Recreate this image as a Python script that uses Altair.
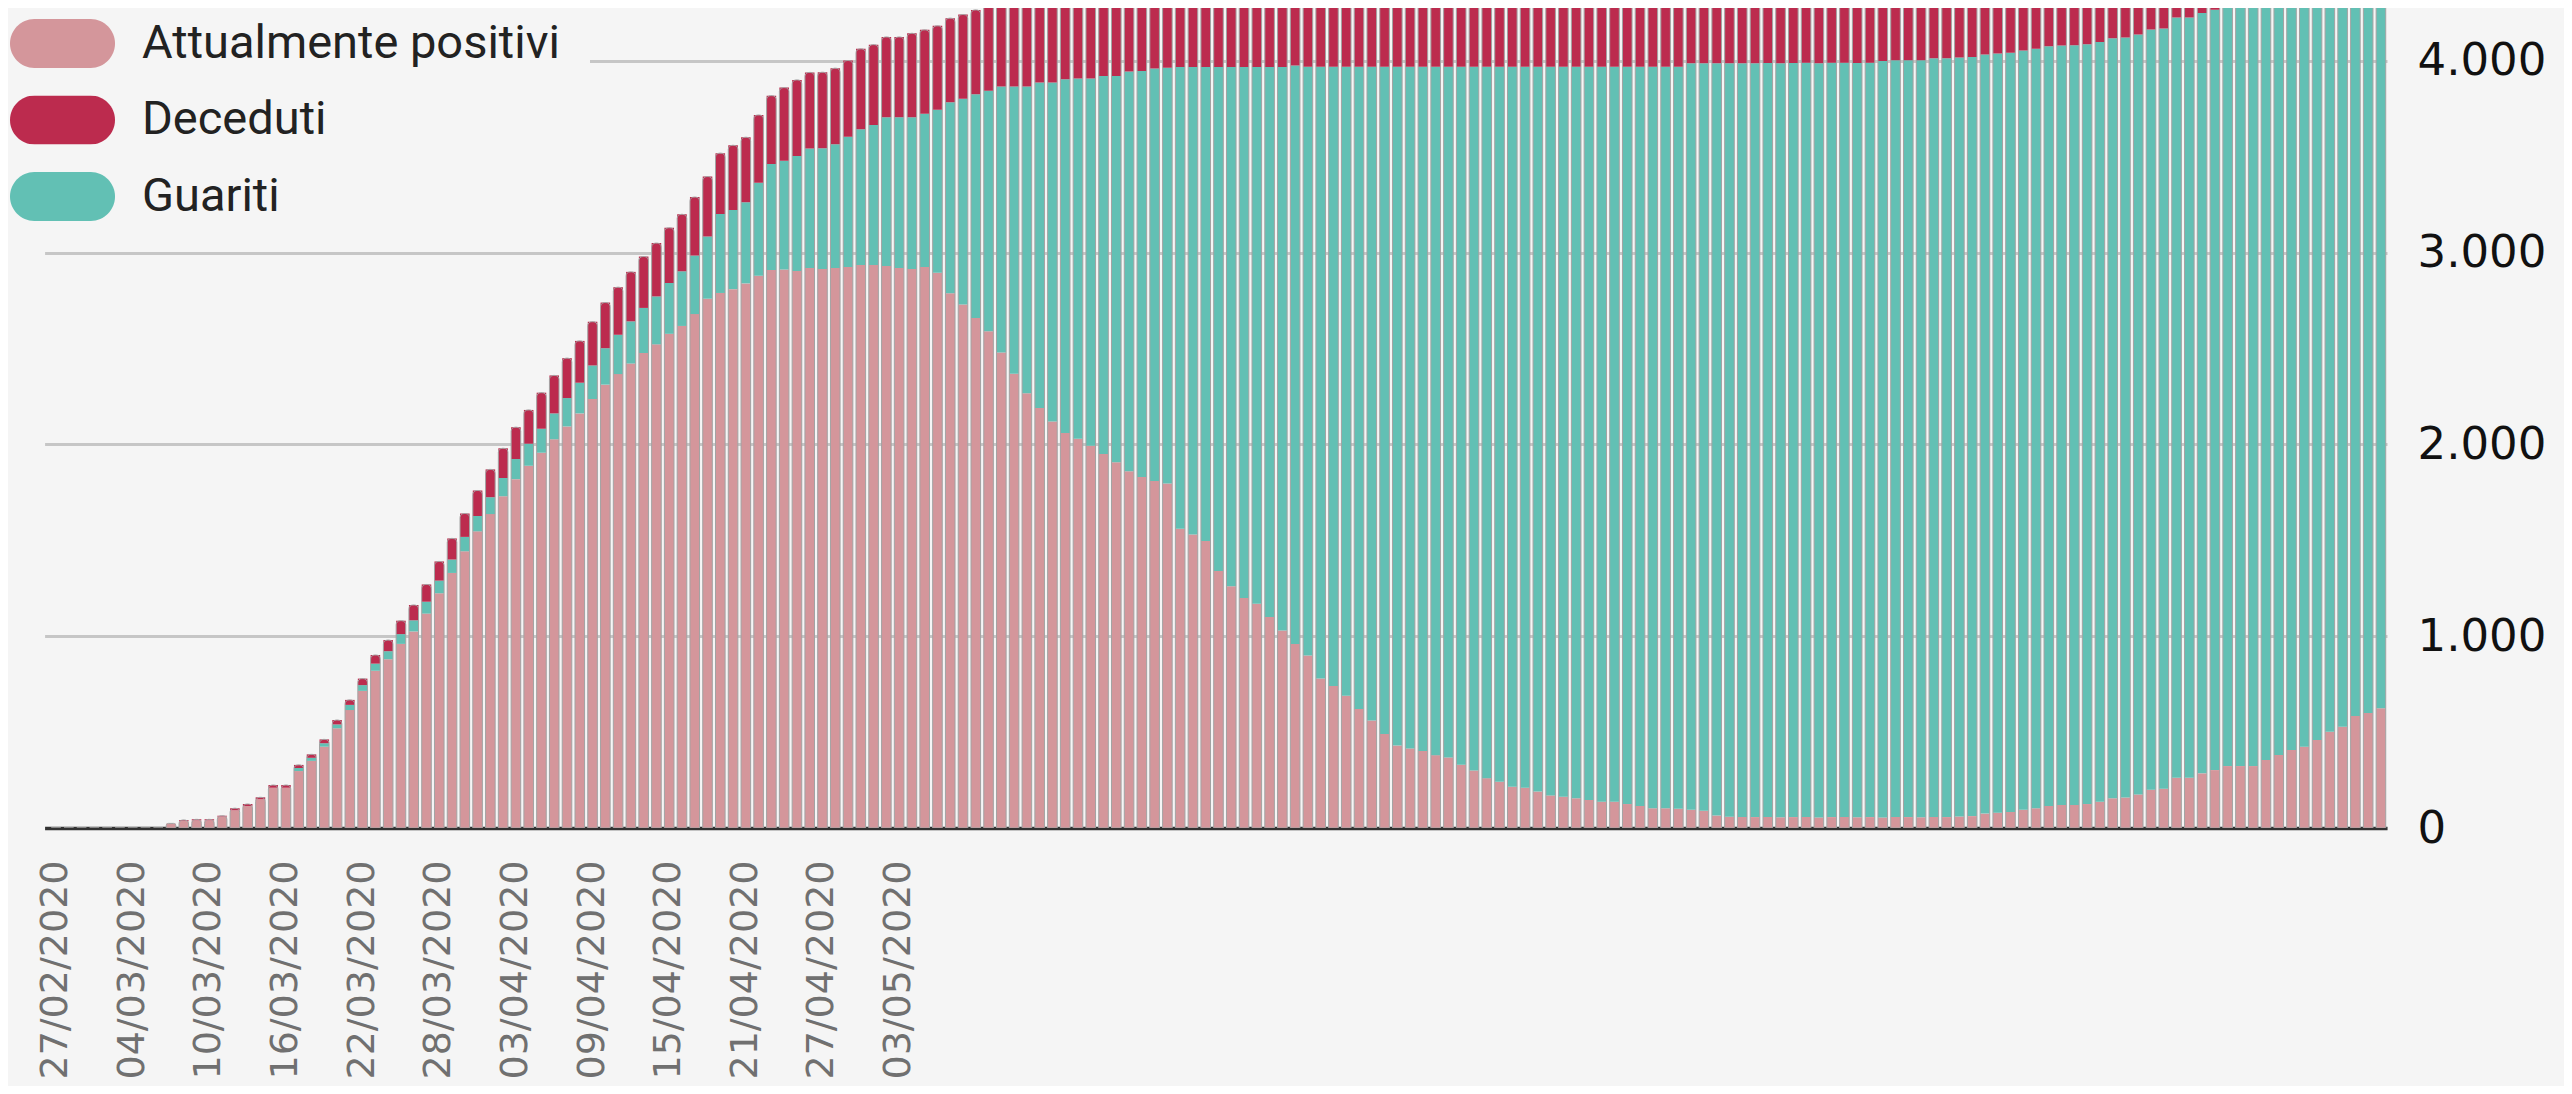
import altair as alt
import pandas as pd

# ---------------- data ----------------
dates = [d.strftime("%d/%m/%Y") for d in pd.date_range("2020-02-27", periods=183, freq="D")]

tick_labels = ["27/02/2020", "04/03/2020", "10/03/2020", "16/03/2020", "22/03/2020",
               "28/03/2020", "03/04/2020", "09/04/2020", "15/04/2020", "21/04/2020",
               "27/04/2020", "03/05/2020"]

series = ["Attualmente positivi", "Deceduti", "Guariti"]
colors = ["#d4969b", "#bc2b4e", "#62c0b4"]

positivi = (
    [0] * 9 +
    [24, 38, 41, 41, 60, 93, 115, 150, 210, 210,
     297, 350, 424, 520, 615, 715, 820, 880, 960, 1025,
     1118, 1224, 1330, 1443, 1547, 1637, 1730, 1819, 1889, 1957,
     2027, 2094, 2162, 2237, 2312, 2367, 2422, 2477, 2522, 2577,
     2618, 2680, 2760, 2790, 2810, 2840, 2880, 2910, 2912, 2905,
     2920, 2915, 2920, 2925, 2936, 2936, 2930, 2920, 2915, 2925,
     2896, 2789, 2730, 2660, 2590, 2480, 2369, 2267, 2190, 2120,
     2060, 2030, 1993, 1950, 1907, 1860, 1830, 1810, 1796, 1560,
     1530, 1497, 1340, 1260, 1200, 1170, 1100, 1030, 960, 900,
     780, 740, 690, 620, 560, 490, 430, 415, 402, 380,
     368, 330, 300, 260, 241, 215, 210, 190, 170, 163,
     155, 146, 137, 137, 125, 115, 103, 103, 100, 95,
     90, 65, 59] +
    [58, 57, 58, 56, 57, 58, 55, 57, 58, 56, 57, 55, 58, 57, 56, 58, 57, 60, 62] +
    [75, 80, 84, 95, 103, 115, 120, 120, 125, 137,
     155, 159, 175, 200, 205, 262, 262, 285, 302, 323,
     323, 323, 355, 381, 407, 424, 459, 502, 528, 584,
     600, 624]
)

guariti = (
    [0] * 19 +
    [16, 16, 18, 20, 27, 30, 37, 42, 51, 58,
     62, 66, 70, 75, 80, 88, 95, 105, 115, 125,
     135, 148, 160, 175, 190, 205, 220, 235, 250, 265,
     285, 305, 324, 412, 412, 423, 485, 553, 568, 599,
     623, 629, 645, 680, 708, 730, 776, 786, 791, 799,
     849, 995, 1073, 1166, 1255, 1386, 1497, 1599, 1697, 1767,
     1844, 1878, 1915, 1972, 2015, 2085, 2117, 2150, 2169, 2408,
     2438, 2471, 2628, 2708, 2768, 2798, 2868, 2938, 3016, 3070,
     3190, 3230, 3280, 3350, 3410, 3480, 3540, 3555, 3568, 3590,
     3602, 3640, 3670, 3710, 3729, 3755, 3760, 3780, 3800, 3807,
     3815, 3824, 3833, 3833, 3845, 3855, 3867, 3867, 3870, 3893,
     3898, 3923, 3929,
     3930, 3931, 3931, 3932, 3932, 3932, 3933, 3933, 3933, 3933, 3934,
     3945, 3946, 3947, 3947,
     3956, 3957, 3958, 3958, 3958, 3959,
     3959, 3960, 3960, 3961, 3961, 3962, 3962, 3962, 3963, 3963,
     3963, 3964, 3964, 3964, 3965, 3965, 3965, 3966, 3966, 3966,
     3967, 3967, 3967, 3968, 3968, 3968, 3969, 3969, 3970, 3970]
)

deceduti = (
    [0] * 10 +
    [4, 4, 4, 4, 10, 10, 10, 14, 14,
     16, 18, 20, 23, 26, 34, 45, 58, 70, 80,
     90, 100, 110, 122, 133, 145, 155, 166, 176, 188,
     198, 208, 218, 228, 238, 248, 258, 268, 278, 288,
     297, 305, 313, 317, 338, 339, 353, 356, 381, 397,
     397, 397, 397, 397, 419, 419, 419, 419, 438, 438,
     438, 439, 439, 440, 456, 460,
     462, 465, 468, 471, 474, 477, 480, 483, 486, 489,
     492, 495, 498, 501, 504, 507, 510, 512, 514, 516,
     518, 520, 522, 524, 526, 528,
     530, 531, 532, 533, 534, 535, 536, 537, 538, 539,
     540, 540, 541, 541, 542, 542, 543, 543, 543, 544] +
    [544] * 30 + [545] * 32
)

order_of = {"Attualmente positivi": 0, "Guariti": 1, "Deceduti": 2}
rows = []
for i, d in enumerate(dates):
    for name, arr in (("Attualmente positivi", positivi), ("Guariti", guariti), ("Deceduti", deceduti)):
        rows.append({"data": d, "serie": name, "valore": arr[i], "ordine": order_of[name]})
df = pd.DataFrame(rows)

# ---------------- encodings ----------------
PILL = ("M-0.5333,-0.4667H0.5333A0.4667,0.4667,0,0,1,0.5333,0.4667"
        "H-0.5333A0.4667,0.4667,0,0,1,-0.5333,-0.4667Z")

x_enc = alt.X(
    "data:O", sort=dates,
    scale=alt.Scale(paddingInner=0.25, paddingOuter=0.31, align=0.84),
    axis=alt.Axis(values=tick_labels, labelAngle=-90, labelFont="DejaVu Sans",
                  labelFontSize=38, labelColor="#707070", labelPadding=32,
                  labelLimit=1000, ticks=False, domainColor="#333333",
                  domainWidth=3.5, grid=False, title=None, labelOverlap=False),
)

y_scale = alt.Scale(domain=[0, 4276], nice=False, zero=True)
y_axis = alt.Axis(orient="right", values=[0, 1000, 2000, 3000, 4000],
                  labelExpr="replace(format(datum.value, ','), ',', '.')",
                  labelFont="DejaVu Sans", labelFontSize=45, labelColor="#111111",
                  labelPadding=30, ticks=False, domain=False, grid=True,
                  gridColor="#c6c6c6", gridWidth=3, title=None)

bars = alt.Chart(df).mark_bar(clip=True).encode(
    x=x_enc,
    y=alt.Y("valore:Q", stack="zero", scale=y_scale, axis=y_axis),
    color=alt.Color(
        "serie:N",
        scale=alt.Scale(domain=series, range=colors),
        legend=alt.Legend(
            title=None, orient="none", legendX=-64.6, legendY=-19,
            symbolType=PILL, symbolSize=11025, symbolStrokeWidth=0,
            labelFont="Roboto", labelFontSize=47, labelColor="#222222",
            labelOffset=27, rowPadding=27.5, clipHeight=49, padding=30,
            fillColor="#f5f5f5", labelLimit=2000,
        ),
    ),
    order=alt.Order("ordine:Q", sort="ascending"),
)

outline = alt.Chart(df).mark_bar(
    clip=True, fillOpacity=0, stroke="#a3a3a3", strokeWidth=1,
    cornerRadiusTopLeft=4, cornerRadiusTopRight=4,
).encode(
    x=x_enc,
    y=alt.Y("sum(valore):Q", scale=y_scale, axis=y_axis),
)

chart = alt.layer(bars, outline).properties(
    width=2342.4, height=820,
    background="#f5f5f5",
    padding={"left": 36.6, "top": 0, "right": 177, "bottom": 258},
    autosize=alt.AutoSizeParams(type="none"),
).configure_view(stroke=None)

chart.save("out.html", embed_options={"renderer": "svg", "actions": False})
